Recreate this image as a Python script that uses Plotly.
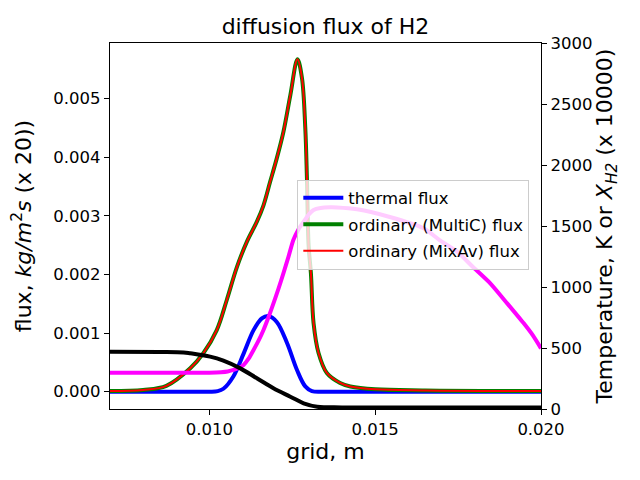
import plotly.graph_objects as go

# grid positions (m) and fluxes
thermal_x = [0.0070, 0.0090, 0.0100, 0.01025, 0.01042, 0.01072, 0.01103, 0.01133,
             0.01158, 0.01178, 0.01203, 0.01234, 0.01264, 0.01289, 0.01309,
             0.0135, 0.0160, 0.0200]
thermal_flux = [0.0, 0.0, 0.0, 0.00001, 0.00005, 0.00026, 0.00065, 0.00105,
                0.00125, 0.00129, 0.00119, 0.00083, 0.00037, 0.00009, 0.00001,
                0.0, 0.0, 0.0]

ordinary_x = [0.0070, 0.0080, 0.0087, 0.00942, 0.00982, 0.01022, 0.01052, 0.01083,
              0.01113, 0.01143, 0.01163, 0.01183, 0.01203, 0.01223, 0.01244,
              0.012655, 0.01279, 0.01289, 0.01294, 0.01299, 0.01306, 0.01314,
              0.01329, 0.01354, 0.01394, 0.01425, 0.0150, 0.0165, 0.0200]
multic_flux = [0.00001, 0.00003, 0.0001, 0.0004, 0.00066, 0.00105, 0.00156, 0.00213,
               0.00256, 0.0029, 0.00318, 0.00358, 0.00398, 0.00443, 0.00506,
               0.00567, 0.00535, 0.0045, 0.00364, 0.0025, 0.00202, 0.00117,
               0.00066, 0.00032, 0.00015, 0.00009, 0.00004, 0.00002, 0.00001]
mixav_flux = list(multic_flux)

temp_x = [0.0070, 0.0085, 0.0095, 0.0100, 0.01035, 0.01055, 0.01073, 0.01088,
          0.01103, 0.01118, 0.01133, 0.01148, 0.01163, 0.01178, 0.01193, 0.01208,
          0.01223, 0.01238, 0.01253, 0.01268, 0.01284, 0.01299, 0.01314, 0.01335,
          0.01364, 0.01385, 0.01445, 0.01544, 0.01646, 0.01694, 0.01747, 0.01794,
          0.01847, 0.01898, 0.01948, 0.01975, 0.0200]
temperature = [297, 297, 297, 298, 302, 308, 320, 336, 361, 412, 484, 560, 648,
               752, 866, 985, 1112, 1245, 1385, 1470, 1535, 1592, 1631, 1647,
               1653, 1652, 1637, 1574, 1481, 1385, 1290, 1166, 1030, 866, 702,
               605, 497]

xh2_x = [0.0070, 0.0085, 0.00922, 0.00942, 0.01002, 0.01042, 0.01093, 0.01143,
         0.01193, 0.01244, 0.01284, 0.01325, 0.0140, 0.0160, 0.0200]
xh2 = [470, 468, 464, 457, 429, 396, 333, 252, 170, 101, 47, 19, 13, 12, 12]

font = "DejaVu Sans, Arial, sans-serif"

fig = go.Figure()

fig.add_trace(go.Scatter(x=thermal_x, y=thermal_flux, mode="lines", name="thermal flux",
                         line=dict(color="blue", width=4, shape="spline"),
                         legendgroup="a"))
fig.add_trace(go.Scatter(x=ordinary_x, y=multic_flux, mode="lines",
                         name="ordinary (MultiC) flux",
                         line=dict(color="green", width=4, shape="spline"),
                         legendgroup="b"))
fig.add_trace(go.Scatter(x=ordinary_x, y=mixav_flux, mode="lines",
                         name="ordinary (MixAv) flux",
                         line=dict(color="red", width=2, shape="spline"),
                         legendgroup="c"))

# temperature and H2 fraction on the right axis
fig.add_trace(go.Scatter(x=temp_x, y=temperature, mode="lines", yaxis="y2",
                         line=dict(color="#ff00ff", width=4, shape="spline",
                                   smoothing=0.6),
                         showlegend=False))
fig.add_trace(go.Scatter(x=xh2_x, y=xh2, mode="lines", yaxis="y2",
                         line=dict(color="black", width=4, shape="spline"),
                         showlegend=False))

axis_common = dict(showgrid=False, zeroline=False, showline=True,
                   linecolor="black", linewidth=1.2, ticks="outside",
                   ticklen=5, tickcolor="black", automargin=False,
                   tickfont=dict(size=16.5))

# page body adds an 8px offset, so the figure is 8px smaller than the window
fig.update_layout(
    width=632, height=472,
    margin=dict(l=102, r=99, t=35, b=71),
    paper_bgcolor="white", plot_bgcolor="white",
    font=dict(family=font, size=16.5, color="black"),
    title=dict(text="diffusion flux of H2", x=0.5, xref="paper", xanchor="center",
               y=1, yref="paper", yanchor="bottom", pad=dict(b=9),
               font=dict(size=22)),
    xaxis=dict(range=[0.007, 0.020], tickvals=[0.010, 0.015, 0.020],
               tickformat=".3f", mirror=True,
               title=dict(text="grid, m", font=dict(size=22), standoff=3),
               **axis_common),
    yaxis=dict(range=[-0.000295, 0.005948],
               tickvals=[0.000, 0.001, 0.002, 0.003, 0.004, 0.005],
               tickformat=".3f",
               title=dict(text="flux, <i>kg/m</i><sup>2</sup><i>s</i> (x 20))",
                          font=dict(size=22), standoff=17),
               **axis_common),
    yaxis2=dict(range=[0, 3000], overlaying="y", side="right",
                tickvals=[0, 500, 1000, 1500, 2000, 2500, 3000],
                title=dict(text="Temperature, K or <i>X</i><sub><i>H2</i></sub> (x 10000)",
                           font=dict(size=22), standoff=5),
                **axis_common),
    legend=dict(x=0.4346, y=0.627, xanchor="left", yanchor="top",
                bgcolor="rgba(255,255,255,0.8)", bordercolor="#cccccc",
                borderwidth=1, font=dict(size=16.5), tracegroupgap=2,
                itemwidth=40),
)

fig.write_html("out.html")
